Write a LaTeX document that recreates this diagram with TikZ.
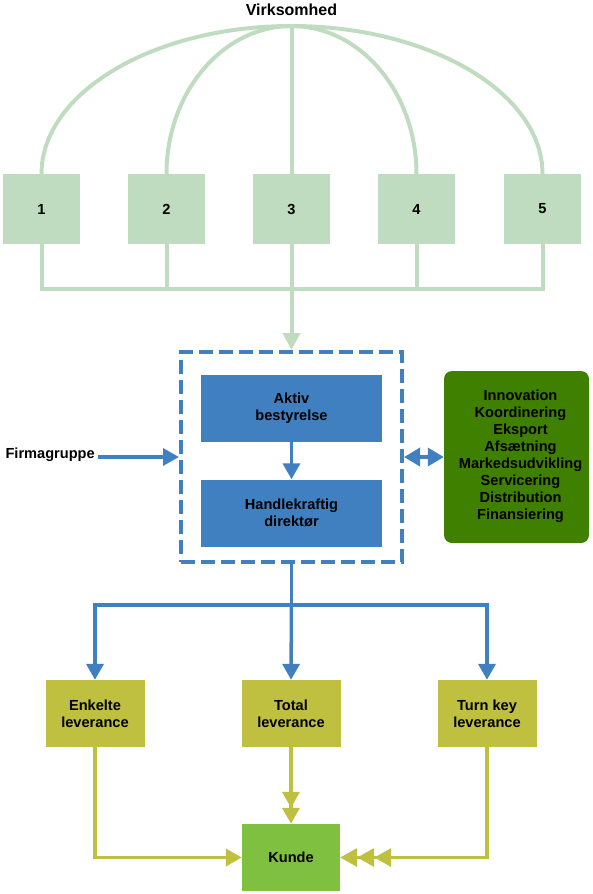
\documentclass[tikz,border=0pt]{standalone}
\usepackage{fontspec}
\setmainfont{Liberation Sans}
\usetikzlibrary{positioning,arrows.meta,calc}
\definecolor{Lys}{HTML}{C0DCC0}
\definecolor{Blaa}{HTML}{4080C0}
\definecolor{Moerk}{HTML}{408000}
\definecolor{Oliven}{HTML}{C0C040}
\definecolor{Kundegr}{HTML}{80C040}

\begin{document}
\begin{tikzpicture}[x=1pt,y=-1pt,
    tekst/.style={font=\bfseries\fontsize{14.6}{17}\selectfont,align=center},
    enhed/.style={tekst,fill=Lys,minimum width=77pt,minimum height=70pt,inner sep=0pt},
    blaaboks/.style={tekst,fill=Blaa,minimum width=181pt,minimum height=67pt,inner sep=0pt},
    levboks/.style={tekst,fill=Oliven,minimum width=99pt,minimum height=67pt,inner sep=0pt},
    lys/.style={draw=Lys,line width=4pt},
    blaa/.style={draw=Blaa,line width=3.5pt},
    oliven/.style={draw=Oliven,line width=3.5pt},
    spids/.style={-{Triangle[length=16pt,width=17pt]}}]
  \useasboundingbox (0,0) rectangle (592,894);
  % virksomhed og enheder
  \node[font=\bfseries\fontsize{16}{18}\selectfont] (virk) at (291.5,10) {Virksomhed};
  \coordinate (top) at (291.5,26);
  \foreach \i/\x in {1/41.5,2/166.5,3/291.5,4/416.5,5/542.5} {\node[enhed] (e\i) at (\x,209) {\i};}
  \foreach \i/\dx in {1/-138,2/-69,4/69,5/138} {\draw[lys] (top) .. controls +(\dx,0) and +(0,-81) .. (e\i.north);}
  \draw[lys] (top) -- (e3.north);
  \coordinate (bus) at (291.5,289);
  \draw[lys] (e1.south) |- (bus) -| (e5.south);
  \foreach \i in {2,4} {\draw[lys] (e\i.south) -- (e\i.south |- bus);}
  % ledelse
  \node[draw=Blaa,line width=4pt,dash pattern=on 14pt off 6pt,minimum width=221pt,minimum height=210pt,inner sep=0pt] (ramme) at (291.5,457) {};
  \draw[lys,-{Triangle[length=17pt,width=17pt]}] (e3.south) -- (ramme.north);
  \node[blaaboks] (aktiv) at (291.5,408) {Aktiv\\bestyrelse};
  \node[blaaboks] (direktor) at (291.5,513) {Handlekraftig\\direktør};
  \draw[blaa,spids] (aktiv.south) -- (direktor.north);
  \node[tekst,anchor=west] (firma) at (2,455) {Firmagruppe};
  \draw[blaa,spids] (firma.east |- ramme.west) -- (ramme.west);
  \node[tekst,fill=Moerk,rounded corners=8pt,minimum width=145pt,minimum height=172pt,inner sep=0pt] (funk) at (516.5,457)
    {\hspace*{8pt}\begin{tabular}{@{}c@{}}Innovation\\Koordinering\\Eksport\\Afsætning\\Markedsudvikling\\Servicering\\Distribution\\Finansiering\end{tabular}};
  \draw[blaa,{Triangle[length=16pt,width=18pt]}-{Triangle[length=16pt,width=18pt]}] (ramme.east) -- (funk.west);
  % leverancer
  \node[levboks] (enk) at (95,713.5) {Enkelte\\leverance};
  \node[levboks] (tot) at (291,713.5) {Total\\leverance};
  \node[levboks] (turn) at (487,713.5) {Turn key\\leverance};
  \coordinate (fork) at (291.5,605);
  \draw[blaa] (ramme.south) -- (fork);
  \draw[blaa,spids] (fork) -| (enk.north);
  \draw[blaa,spids] (fork) -| (turn.north);
  \draw[blaa,spids] (fork) -- (tot.north);
  \node[tekst,fill=Kundegr,minimum width=98pt,minimum height=67pt,inner sep=0pt] (kunde) at (291,857.5) {Kunde};
  \draw[oliven,-{Triangle[length=16pt,width=17pt]}] (enk.south) |- (kunde.west);
  \draw[oliven,-{Triangle[length=16pt,width=17pt] Triangle[length=16pt,width=17pt]}] (tot.south) -- (kunde.north);
  \draw[oliven,-{Triangle[length=17pt,width=18pt] Triangle[length=17pt,width=18pt] Triangle[length=17pt,width=18pt]}] (turn.south) |- (kunde.east);
\end{tikzpicture}
\end{document}
